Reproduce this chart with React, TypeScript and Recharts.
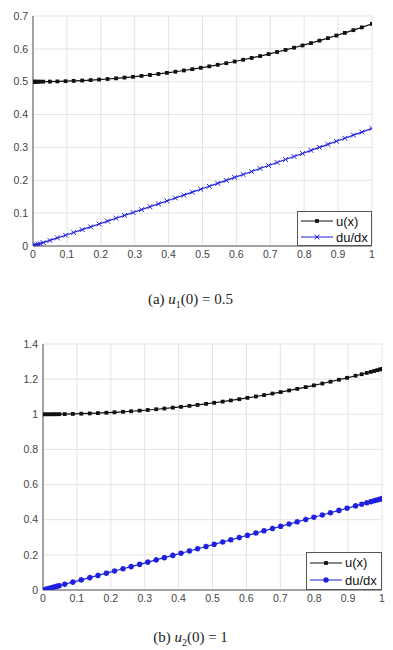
import { LineChart, Line, XAxis, YAxis, CartesianGrid, Legend } from "recharts";

// axis ticks
const xTicks = [0, 0.1, 0.2, 0.3, 0.4, 0.5, 0.6, 0.7, 0.8, 0.9, 1];
const xTickLabels = ["0", "0.1", "0.2", "0.3", "0.4", "0.5", "0.6", "0.7", "0.8", "0.9", "1"];
const yTicksA = [0, 0.1, 0.2, 0.3, 0.4, 0.5, 0.6, 0.7];
const yTickLabelsA = ["0", "0.1", "0.2", "0.3", "0.4", "0.5", "0.6", "0.7"];
const yTicksB = [0, 0.2, 0.4, 0.6, 0.8, 1, 1.2, 1.4];
const yTickLabelsB = ["0", "0.2", "0.4", "0.6", "0.8", "1", "1.2", "1.4"];
const seriesNames = ["u(x)", "du/dx"];
const captions = ["0.5", "1"];

// (a) u1(0) = 0.5
const xA = [
  0, 0.003, 0.006, 0.01, 0.015, 0.021, 0.03, 0.05, 0.072, 0.096, 0.12, 0.145, 0.17, 0.195, 0.22, 0.245,
  0.27, 0.295, 0.32, 0.345, 0.37, 0.395, 0.42, 0.445, 0.47, 0.495, 0.52, 0.545, 0.57, 0.595, 0.62, 0.645,
  0.67, 0.695, 0.72, 0.745, 0.77, 0.795, 0.82, 0.845, 0.87, 0.895, 0.92, 0.945, 0.97, 1.0,
];
const uA = [
  0.5, 0.5, 0.5, 0.5, 0.5, 0.5001, 0.5002, 0.5004, 0.5009, 0.5016, 0.5025, 0.5036, 0.5049, 0.5065, 0.5083,
  0.5103, 0.5125, 0.5149, 0.5176, 0.5205, 0.5236, 0.5269, 0.5304, 0.5342, 0.5382, 0.5424, 0.5468, 0.5515,
  0.5563, 0.5615, 0.5668, 0.5723, 0.5781, 0.5841, 0.5904, 0.5968, 0.6035, 0.6104, 0.6176, 0.625, 0.6326,
  0.6405, 0.6486, 0.6569, 0.6654, 0.676,
];
const duA = [
  0, 0.001, 0.002, 0.0034, 0.0051, 0.0071, 0.0102, 0.017, 0.0246, 0.0328, 0.041, 0.0497, 0.0583, 0.067,
  0.0757, 0.0844, 0.0931, 0.1019, 0.1106, 0.1194, 0.1283, 0.1371, 0.146, 0.1549, 0.1638, 0.1727, 0.1817,
  0.1906, 0.1997, 0.2087, 0.2177, 0.2268, 0.2359, 0.245, 0.2541, 0.2633, 0.2725, 0.2817, 0.2909, 0.3002,
  0.3094, 0.3187, 0.328, 0.3374, 0.3467, 0.358,
];

// (b) u2(0) = 1
const xB = [
  0, 0.008, 0.016, 0.024, 0.032, 0.04, 0.048, 0.064, 0.088, 0.113, 0.138, 0.162, 0.187, 0.211, 0.236, 0.26,
  0.285, 0.309, 0.334, 0.358, 0.383, 0.407, 0.432, 0.456, 0.481, 0.505, 0.53, 0.554, 0.579, 0.603, 0.628,
  0.652, 0.677, 0.701, 0.726, 0.75, 0.775, 0.799, 0.824, 0.848, 0.873, 0.897, 0.922, 0.94, 0.955, 0.967,
  0.977, 0.986, 0.994, 1.0,
];
const uB = [
  1, 1.0, 1.0001, 1.0001, 1.0003, 1.0004, 1.0006, 1.001, 1.002, 1.0033, 1.0049, 1.0067, 1.0089, 1.0114,
  1.0142, 1.0173, 1.0207, 1.0244, 1.0286, 1.0328, 1.0376, 1.0425, 1.0479, 1.0533, 1.0594, 1.0655, 1.0721,
  1.0788, 1.0861, 1.0934, 1.1014, 1.1093, 1.1179, 1.1264, 1.1357, 1.1448, 1.1547, 1.1645, 1.175, 1.1854,
  1.1965, 1.2076, 1.2194, 1.228, 1.2354, 1.2414, 1.2465, 1.2511, 1.2553, 1.2583,
];
const duB = [
  0, 0.0041, 0.0082, 0.0122, 0.0163, 0.0204, 0.0245, 0.0327, 0.045, 0.0578, 0.0706, 0.0829, 0.0957, 0.1081,
  0.1209, 0.1333, 0.1462, 0.1585, 0.1715, 0.1839, 0.1968, 0.2092, 0.2222, 0.2346, 0.2476, 0.2601, 0.2731,
  0.2856, 0.2986, 0.3112, 0.3242, 0.3368, 0.3498, 0.3624, 0.3755, 0.3881, 0.4013, 0.4139, 0.427, 0.4397,
  0.4529, 0.4655, 0.4787, 0.4882, 0.4962, 0.5025, 0.5078, 0.5126, 0.5168, 0.52,
];

const BLACK = "#111111";
const BLUE = "#1f1fe0";
const AXIS = "#555555";
const GRID = "#e4e4e4";
const FONT = "'Liberation Sans', Arial, sans-serif";
const SERIF = "'Times New Roman', 'Liberation Serif', Times, serif";

const toRows = (xs: number[], u: number[], du: number[]) =>
  xs.map((x, i) => ({ x, u: u[i], du: du[i] }));

const fmt = (ticks: number[], labels: string[]) => (v: number) => {
  const i = ticks.findIndex((t) => Math.abs(t - v) < 1e-9);
  return i >= 0 ? labels[i] : String(v);
};

type Mk = "square" | "cross" | "star";

function drawMarker(kind: Mk, cx: number, cy: number, key?: string) {
  if (kind === "square") {
    return <rect key={key} x={cx - 1.9} y={cy - 1.9} width={3.8} height={3.8} fill={BLACK} />;
  }
  if (kind === "cross") {
    const s = 2.4;
    return (
      <path key={key} d={`M${cx - s},${cy - s}L${cx + s},${cy + s}M${cx - s},${cy + s}L${cx + s},${cy - s}`}
        stroke={BLUE} strokeWidth={1} fill="none" />
    );
  }
  const s = 2.8;
  const d = s * 0.72;
  return (
    <path key={key}
      d={`M${cx - s},${cy}L${cx + s},${cy}M${cx},${cy - s}L${cx},${cy + s}M${cx - d},${cy - d}L${cx + d},${cy + d}M${cx - d},${cy + d}L${cx + d},${cy - d}`}
      stroke={BLUE} strokeWidth={1.6} fill="none" />
  );
}

const dotFn = (kind: Mk) => (p: any) => drawMarker(kind, p.cx, p.cy, p.key ?? `${kind}-${p.index}`);

function legendContent(markers: Mk[], fontSize: number, rowGap: number) {
  return () => (
    <div style={{ width: "100%", height: "100%", boxSizing: "border-box", border: `1px solid ${AXIS}`,
      background: "#fff", padding: "1px 0 0 3px", fontFamily: FONT, fontSize, color: "#111" }}>
      {seriesNames.map((name, i) => (
        <div key={name} style={{ display: "flex", alignItems: "center", height: rowGap }}>
          <svg width={32} height={10} style={{ marginRight: 3 }}>
            <line x1={0} y1={5} x2={32} y2={5} stroke={i === 0 ? BLACK : BLUE} strokeWidth={1} />
            {drawMarker(markers[i], 16, 5)}
          </svg>
          <span>{name}</span>
        </div>
      ))}
    </div>
  );
}

type PanelProps = {
  rows: { x: number; u: number; du: number }[];
  width: number;
  height: number;
  yTicks: number[];
  yLabels: string[];
  yMax: number;
  yAxisWidth: number;
  rightMargin: number;
  markers: Mk[];
  legend: { left: number; top: number; width: number; height: number; fontSize: number; rowGap: number };
};

function Panel(p: PanelProps) {
  const tickStyle = { fontSize: 10.5, fill: "#444", fontFamily: FONT };
  return (
    <LineChart width={p.width} height={p.height} data={p.rows}
      margin={{ top: 16, right: p.rightMargin, bottom: 0, left: 0 }}>
      <CartesianGrid stroke={GRID} />
      <XAxis dataKey="x" type="number" domain={[0, 1]} ticks={xTicks} interval={0}
        tickFormatter={fmt(xTicks, xTickLabels)} tick={tickStyle} tickLine={false} tickSize={0}
        tickMargin={5} height={24} axisLine={{ stroke: AXIS }} allowDataOverflow />
      <XAxis xAxisId="top" orientation="top" type="number" domain={[0, 1]} height={0} tick={false}
        tickLine={false} axisLine={{ stroke: AXIS }} />
      <YAxis type="number" domain={[0, p.yMax]} ticks={p.yTicks} interval={0}
        tickFormatter={fmt(p.yTicks, p.yLabels)} tick={tickStyle} tickLine={false} tickSize={0}
        tickMargin={5} width={p.yAxisWidth} axisLine={{ stroke: AXIS }} allowDataOverflow />
      <YAxis yAxisId="right" orientation="right" type="number" domain={[0, p.yMax]} width={0}
        tick={false} tickLine={false} axisLine={{ stroke: AXIS }} />
      <Line dataKey="u" name={seriesNames[0]} stroke={BLACK} strokeWidth={1.2}
        dot={dotFn(p.markers[0])} isAnimationActive={false} />
      <Line dataKey="du" name={seriesNames[1]} stroke={BLUE} strokeWidth={1.2}
        dot={dotFn(p.markers[1])} isAnimationActive={false} />
      <Legend layout="vertical" align="center" verticalAlign="middle"
        content={legendContent(p.markers, p.legend.fontSize, p.legend.rowGap)}
        wrapperStyle={{ left: p.legend.left, top: p.legend.top, width: p.legend.width,
          height: p.legend.height, bottom: "auto", right: "auto" }} />
    </LineChart>
  );
}

function Caption({ tag, sub, value, top }: { tag: string; sub: string; value: string; top: number }) {
  return (
    <div style={{ position: "absolute", left: 0, width: 381, top, textAlign: "center",
      fontFamily: SERIF, fontSize: 15, color: "#222", lineHeight: "18px" }}>
      ({tag}) <i>u</i><sub style={{ fontSize: 10, lineHeight: 0 }}>{sub}</sub>(0) = {value}
    </div>
  );
}

export default function App() {
  return (
    <div style={{ position: "absolute", left: 0, top: 0, width: 393, height: 650, background: "#fff" }}>
      <div style={{ position: "absolute", left: 0, top: 0 }}>
        <Panel rows={toRows(xA, uA, duA)} width={393} height={270} yTicks={yTicksA}
          yLabels={yTickLabelsA} yMax={0.7} yAxisWidth={33} rightMargin={21} markers={["square", "cross"]}
          legend={{ left: 297, top: 211, width: 75, height: 35, fontSize: 13, rowGap: 16 }} />
      </div>
      <Caption tag="a" sub="1" value={captions[0]} top={290} />
      <div style={{ position: "absolute", left: 0, top: 328 }}>
        <Panel rows={toRows(xB, uB, duB)} width={393} height={286} yTicks={yTicksB}
          yLabels={yTickLabelsB} yMax={1.4} yAxisWidth={43} rightMargin={11} markers={["square", "star"]}
          legend={{ left: 306, top: 224, width: 76, height: 38, fontSize: 13, rowGap: 17.5 }} />
      </div>
      <Caption tag="b" sub="2" value={captions[1]} top={628} />
    </div>
  );
}
